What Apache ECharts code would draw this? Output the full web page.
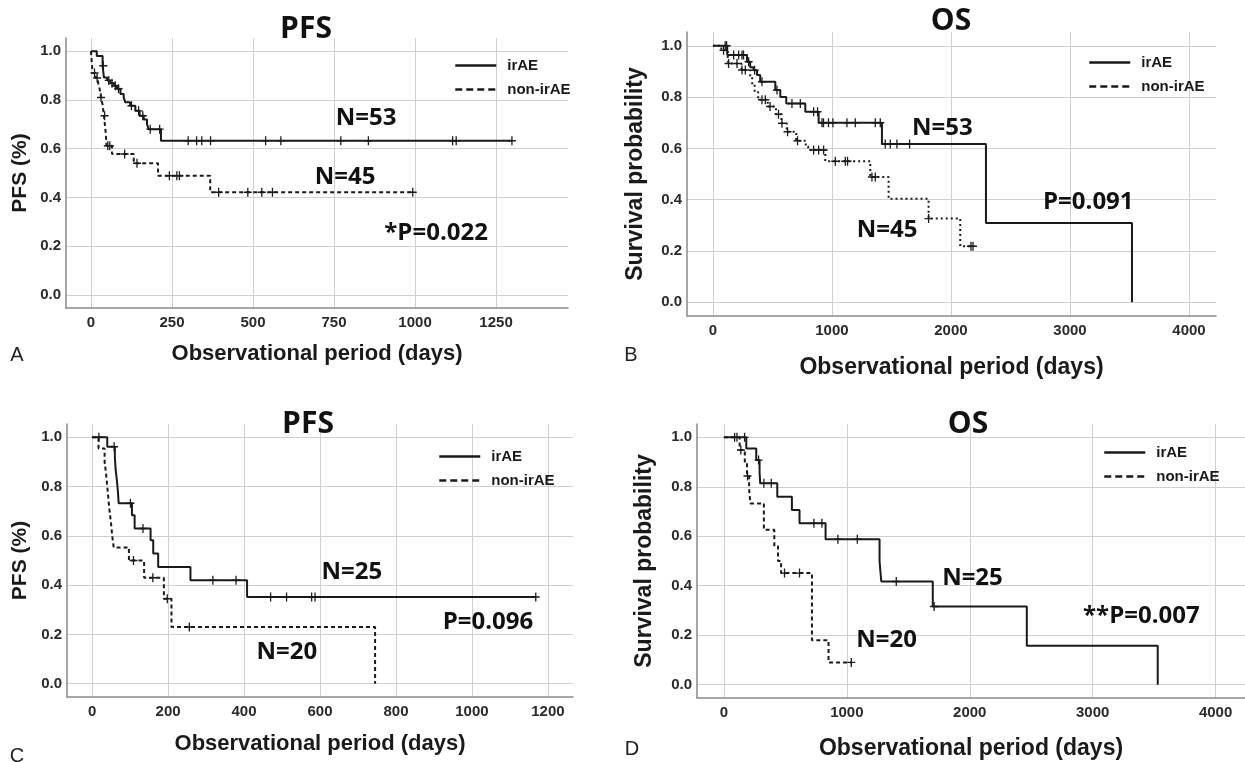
<!DOCTYPE html>
<html><head><meta charset="utf-8">
<script src="https://cdn.jsdelivr.net/npm/echarts@6/dist/echarts.min.js"></script>
<style>html,body{margin:0;padding:0;background:#fff}#c{width:1245px;height:762px}</style>
</head><body><div id="c"></div>
<script>
// ---------------- DATA ----------------
// Panel A – PFS
const A_xTicks = [0, 250, 500, 750, 1000, 1250];
const A_irAE = [[0,1],[18,0.98],[36,0.94],[40,0.892],[50,0.88],[60,0.868],[70,0.858],[80,0.846],[91,0.824],[101,0.81],[106,0.79],[121,0.776],[137,0.755],[150,0.735],[163,0.72],[173,0.70],[178,0.68],[216,0.632],[1299,0.632]];
const A_irAE_cens = [[38,0.94],[55,0.88],[65,0.868],[75,0.858],[85,0.846],[125,0.776],[147,0.755],[160,0.735],[183,0.68],[212,0.68],[300,0.632],[326,0.632],[342,0.632],[369,0.632],[539,0.632],[586,0.632],[771,0.632],[856,0.632],[1116,0.632],[1127,0.632],[1299,0.632]];
const A_non = [[0,1],[5,0.91],[15,0.89],[22,0.87],[26,0.85],[29,0.83],[31,0.81],[36,0.78],[40,0.735],[46,0.66],[48,0.612],[65,0.578],[132,0.54],[207,0.489],[368,0.421],[993,0.421]];
const A_non_cens = [[11,0.91],[19,0.89],[31,0.81],[42,0.735],[52,0.612],[58,0.612],[104,0.578],[142,0.54],[242,0.489],[265,0.489],[273,0.489],[394,0.421],[484,0.421],[527,0.421],[560,0.421],[993,0.421]];
const A_notes = [['N=53',849,0.725],['N=45',784,0.484],['*P=0.022',1065,0.254]];

// Panel B – OS
const B_xTicks = [0, 1000, 2000, 3000, 4000];
const B_irAE = [[0,1],[120,0.964],[286,0.938],[313,0.916],[341,0.905],[370,0.886],[397,0.86],[524,0.828],[566,0.80],[616,0.775],[776,0.743],[888,0.70],[1420,0.617],[2294,0.309],[3521,0]];
const B_irAE_cens = [[103,1],[115,1],[174,0.964],[216,0.964],[244,0.964],[257,0.964],[300,0.938],[350,0.905],[412,0.86],[538,0.828],[664,0.775],[734,0.775],[846,0.743],[879,0.743],[916,0.70],[929,0.70],[971,0.70],[1008,0.70],[1126,0.70],[1196,0.70],[1364,0.70],[1406,0.70],[1448,0.617],[1490,0.617],[1546,0.617],[1652,0.617]];
const B_non = [[0,1],[70,0.983],[125,0.955],[130,0.931],[240,0.906],[313,0.88],[330,0.85],[350,0.82],[380,0.79],[460,0.763],[530,0.733],[575,0.698],[620,0.665],[700,0.63],[780,0.607],[800,0.594],[944,0.55],[1322,0.488],[1476,0.403],[1812,0.326],[2078,0.218],[2185,0.218]];
const B_non_cens = [[89,0.983],[131,0.931],[202,0.931],[244,0.906],[272,0.906],[412,0.79],[440,0.79],[480,0.763],[551,0.733],[580,0.698],[627,0.665],[711,0.63],[846,0.594],[888,0.594],[930,0.594],[1028,0.55],[1112,0.55],[1131,0.55],[1336,0.488],[1364,0.488],[1812,0.326],[2168,0.218],[2185,0.218]];
const B_notes = [['N=53',1927,0.677],['N=45',1464,0.28],['P=0.091',3154,0.389]];

// Panel C – PFS
const C_xTicks = [0, 200, 400, 600, 800, 1000, 1200];
const C_irAE = [[0,1],[40,0.962],[60,0.92],[62,0.87],[65,0.83],[68,0.78],[70,0.732],[105,0.684],[112,0.63],[154,0.582],[161,0.528],[174,0.474],[259,0.42],[408,0.352],[1168,0.352]];
const C_irAE_cens = [[18,1],[58,0.962],[101,0.732],[134,0.63],[318,0.42],[379,0.42],[470,0.352],[512,0.352],[578,0.352],[587,0.352],[1168,0.352]];
const C_non = [[0,1],[17,0.955],[33,0.90],[37,0.85],[40,0.80],[43,0.75],[46,0.70],[50,0.65],[53,0.60],[57,0.553],[97,0.50],[137,0.43],[189,0.345],[209,0.23],[745,0]];
const C_non_cens = [[109,0.50],[160,0.43],[198,0.345],[256,0.23]];
const C_notes = [['N=25',684,0.452],['N=20',513,0.127],['P=0.096',1042,0.249]];

// Panel D – OS
const D_xTicks = [0, 1000, 2000, 3000, 4000];
const D_irAE = [[0,1],[182,0.955],[263,0.908],[290,0.86],[295,0.814],[434,0.76],[553,0.706],[615,0.653],[827,0.588],[1266,0.50],[1280,0.417],[1699,0.316],[2464,0.157],[3529,0]];
const D_irAE_cens = [[87,1],[106,1],[168,1],[282,0.908],[325,0.814],[385,0.814],[732,0.653],[797,0.653],[927,0.588],[1085,0.588],[1402,0.417],[1710,0.316]];
const D_non = [[0,1],[128,0.949],[170,0.897],[188,0.844],[205,0.79],[215,0.733],[325,0.626],[410,0.56],[440,0.50],[465,0.451],[716,0.18],[851,0.09],[1036,0.09]];
const D_non_cens = [[138,0.949],[192,0.844],[493,0.451],[615,0.451],[1036,0.09]];
const D_notes = [['N=25',2022,0.432],['N=20',1323,0.178],['**P=0.007',3396,0.275]];

const yTicks = [0, 0.2, 0.4, 0.6, 0.8, 1.0];
const seriesNames = ['irAE', 'non-irAE'];

// ---------------- LAYOUT ----------------
const FA = '"Liberation Sans", Arial, sans-serif';
const FN = '"Open Sans", sans-serif';
const INK = '#1a1a1a';

const panels = [
  {grid:{left:66,top:38,width:502,height:270}, xr:[-77,1472], xt:A_xTicks, ir:A_irAE, irc:A_irAE_cens, no:A_non, noc:A_non_cens, notes:A_notes,
   yName:'PFS (%)', ySize:21, yGap:35, xGap:35, xSize:22, dash:[4,3], leg:{left:454,top:58}},
  {grid:{left:687,top:32,width:529,height:284}, xr:[-218,4227], xt:B_xTicks, ir:B_irAE, irc:B_irAE_cens, no:B_non, noc:B_non_cens, notes:B_notes,
   yName:'Survival probability', ySize:23, yGap:40, xGap:40, xSize:23, dash:[2,3], leg:{left:1088,top:55}},
  {grid:{left:67,top:424,width:506,height:273}, xr:[-66,1266], xt:C_xTicks, ir:C_irAE, irc:C_irAE_cens, no:C_non, noc:C_non_cens, notes:C_notes,
   yName:'PFS (%)', ySize:21, yGap:36, xGap:36, xSize:22, dash:[4,3], leg:{left:438,top:449}},
  {grid:{left:697,top:424,width:548,height:274}, xr:[-219,4239], xt:D_xTicks, ir:D_irAE, irc:D_irAE_cens, no:D_non, noc:D_non_cens, notes:D_notes,
   yName:'Survival probability', ySize:23, yGap:41, xGap:39, xSize:23, dash:[4,3], leg:{left:1103,top:445}}
];

const titles = [['PFS',306,29],['OS',951,21],['PFS',308,424],['OS',968,424]];
const letters = [['A',17,355],['B',631,355],['C',17,756],['D',632,749]];

const CROSS = 'path://M4.2,0H5.8V10H4.2ZM0,4.2H10V5.8H0Z';

const option = {
  animation:false,
  backgroundColor:'#fff',
  grid:[], xAxis:[], yAxis:[], series:[], legend:[], graphic:[]
};

panels.forEach((p, i) => {
  option.grid.push(Object.assign({outerBoundsMode:'none', containLabel:false}, p.grid));
  option.xAxis.push({
    type:'value', gridIndex:i, min:p.xr[0], max:p.xr[1],
    name:'Observational period (days)', nameLocation:'middle', nameGap:p.xGap,
    nameTextStyle:{fontFamily:FA, fontWeight:'bold', fontSize:p.xSize, color:INK},
    axisLine:{show:true, onZero:false, lineStyle:{color:'#8a8a8a', width:1.5}},
    axisTick:{show:false, customValues:p.xt},
    axisLabel:{customValues:p.xt, margin:7, fontFamily:FA, fontWeight:'bold', fontSize:15, color:'#2a2a2a',
               formatter:v => String(Math.round(v))},
    splitLine:{show:true, lineStyle:{color:'#d0d0d0', width:1}}
  });
  option.yAxis.push({
    type:'value', gridIndex:i, min:-0.054, max:1.054,
    name:p.yName, nameLocation:'middle', nameGap:p.yGap,
    nameTextStyle:{fontFamily:FA, fontWeight:'bold', fontSize:p.ySize, color:INK},
    axisLine:{show:true, onZero:false, lineStyle:{color:'#8a8a8a', width:1.5}},
    axisTick:{show:false, customValues:yTicks},
    axisLabel:{customValues:yTicks, margin:5, fontFamily:FA, fontWeight:'bold', fontSize:15, color:'#2a2a2a',
               formatter:v => v.toFixed(1)},
    splitLine:{show:true, lineStyle:{color:'#d0d0d0', width:1}}
  });
  option.series.push({
    name:seriesNames[0], type:'line', step:'end', xAxisIndex:i, yAxisIndex:i,
    data:p.ir, symbol:'none', lineStyle:{color:INK, width:2}, itemStyle:{color:INK}, z:4
  });
  option.series.push({
    name:seriesNames[1], type:'line', step:'end', xAxisIndex:i, yAxisIndex:i,
    data:p.no, symbol:'none', lineStyle:{color:INK, width:2, type:p.dash}, itemStyle:{color:INK}, z:3
  });
  [p.irc, p.noc].forEach((c, k) => {
    option.series.push({
      name:'censor-' + k, type:'scatter', xAxisIndex:i, yAxisIndex:i, data:c,
      symbol:CROSS, symbolSize:[8,9], itemStyle:{color:INK, opacity:1}, z:5, silent:true
    });
  });
  option.series.push({
    name:'notes', type:'scatter', xAxisIndex:i, yAxisIndex:i, symbolSize:1,
    itemStyle:{color:'#fff', opacity:1}, silent:true, z:6,
    data:p.notes.map(n => ({name:n[0], value:[n[1], n[2]]})),
    label:{show:true, position:'inside', formatter:'{b}', fontFamily:FN, fontWeight:'bold', fontSize:24,
           color:'#111', textBorderWidth:0, textBorderColor:'transparent', opacity:1}
  });
  option.legend.push({
    orient:'vertical', left:p.leg.left, top:p.leg.top, padding:0, itemGap:9,
    itemWidth:41, itemHeight:14, selectedMode:false,
    data:[{name:'irAE', lineStyle:{type:'solid', width:2.5}},
          {name:'non-irAE', lineStyle:{type:[7,4], width:2.5}}],
    itemStyle:{opacity:0},
    textStyle:{fontFamily:FA, fontWeight:'bold', fontSize:15, color:INK, padding:[0,0,0,6]}
  });
});

titles.forEach(t => option.graphic.push({
  type:'text', x:t[1], y:t[2], z:10,
  style:{text:t[0], font:'bold 30px "Open Sans", sans-serif', fill:'#111', align:'center', verticalAlign:'middle'}
}));
letters.forEach(t => option.graphic.push({
  type:'text', x:t[1], y:t[2], z:10,
  style:{text:t[0], font:'20px "Liberation Sans", Arial, sans-serif', fill:'#222', align:'center', verticalAlign:'middle'}
}));

const chart = echarts.init(document.getElementById('c'), null, {renderer:'canvas', width:1245, height:762});
chart.setOption(option);
</script>
</body></html>
